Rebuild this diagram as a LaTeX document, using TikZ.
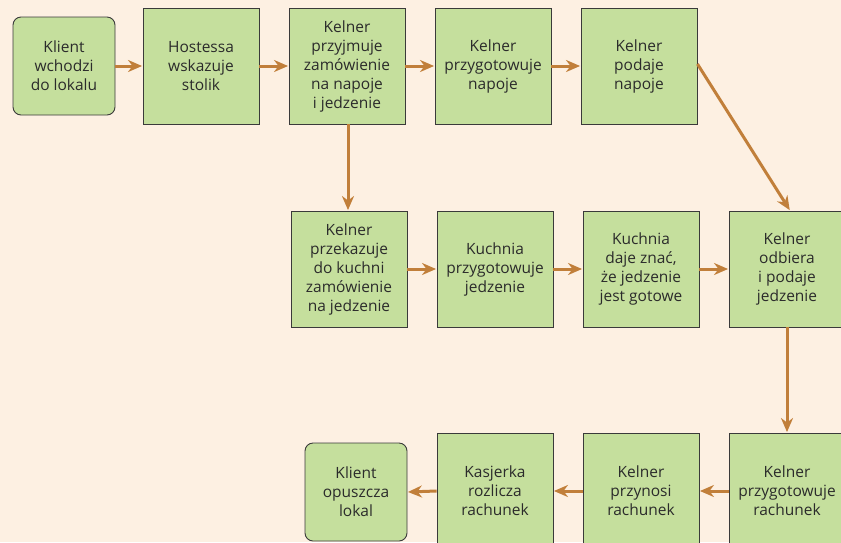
\documentclass[tikz,border=0pt]{standalone}
\usepackage{fontspec}
\setmainfont{Open Sans}
\usetikzlibrary{arrows.meta}
\definecolor{paper}{HTML}{FDF0E2}
\definecolor{boxfill}{HTML}{C5DF9D}
\definecolor{boxline}{HTML}{3A3A3A}
\definecolor{flow}{HTML}{C17F3A}
\definecolor{ink}{HTML}{2B2B2B}
\tikzset{
  stepbox/.style={draw=boxline, fill=boxfill, line width=0.9pt,
    minimum width=116pt, minimum height=116pt, inner sep=0pt,
    align=center, text=ink, font=\fontsize{15.5pt}{19pt}\selectfont},
  endbox/.style={stepbox, minimum width=102pt, minimum height=98pt,
    rounded corners=8pt},
  flowarrow/.style={draw=flow, line width=3pt,
    -{Stealth[length=14pt, width=12pt, inset=4.5pt]}, shorten >=0.5pt}
}
\begin{document}
\begin{tikzpicture}[x=1pt, y=-1pt]
  \fill[paper] (0,0) rectangle (841,542);
  \useasboundingbox (0,0) rectangle (841,542);
  \clip (0,0) rectangle (841,542);

  % first row
  \node[endbox]  (enter)  at (64,66)  {Klient\\wchodzi\\do lokalu};
  \node[stepbox] (host)   at (201,66) {Hostessa\\wskazuje\\stolik};
  \node[stepbox] (order)  at (347,66) {Kelner\\przyjmuje\\zamówienie\\na napoje\\i jedzenie};
  \node[stepbox] (drinks) at (493,66) {Kelner\\przygotowuje\\napoje};
  \node[stepbox] (serve)  at (639,66) {Kelner\\podaje\\napoje};

  % second row
  \node[stepbox] (pass)   at (349,269) {Kelner\\przekazuje\\do kuchni\\zamówienie\\na jedzenie};
  \node[stepbox] (cook)   at (495,269) {Kuchnia\\przygotowuje\\jedzenie};
  \node[stepbox] (ready)  at (641,269) {Kuchnia\\daje znać,\\że jedzenie\\jest gotowe};
  \node[stepbox] (food)   at (787,269) {Kelner\\odbiera\\i podaje\\jedzenie};

  % third row
  \node[stepbox] (bill)   at (787,491) {Kelner\\przygotowuje\\rachunek};
  \node[stepbox] (bring)  at (641,491) {Kelner\\przynosi\\rachunek};
  \node[stepbox] (cash)   at (495,491) {Kasjerka\\rozlicza\\rachunek};
  \node[endbox]  (leave)  at (356,492) {Klient\\opuszcza\\lokal};

  % connectors
  \draw[flowarrow] (enter.east) -- (host.west);
  \draw[flowarrow] (host.east) -- (order.west);
  \draw[flowarrow] (order.east) -- (drinks.west);
  \draw[flowarrow] (drinks.east) -- (serve.west);
  \draw[flowarrow] ([xshift=1pt]order.south) -- ([xshift=-1pt]pass.north);
  \draw[flowarrow] ([yshift=2pt]serve.east) -- ([xshift=3pt]food.north);
  \draw[flowarrow] (pass.east) -- (cook.west);
  \draw[flowarrow] (cook.east) -- (ready.west);
  \draw[flowarrow] (ready.east) -- (food.west);
  \draw[flowarrow] (food.south) -- (bill.north);
  \draw[flowarrow] (bill.west) -- (bring.east);
  \draw[flowarrow] (bring.west) -- (cash.east);
  \draw[flowarrow] (cash.west) -- (leave.east);
\end{tikzpicture}
\end{document}
